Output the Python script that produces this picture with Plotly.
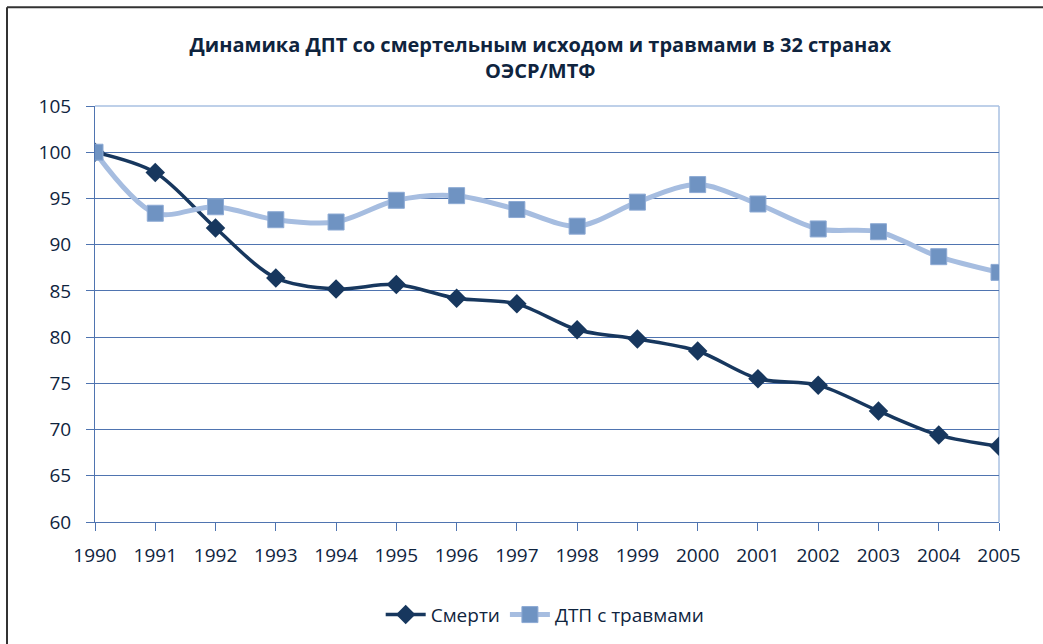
import plotly.graph_objects as go

years = [str(y) for y in range(1990, 2006)]
deaths = [100, 97.8, 91.8, 86.4, 85.2, 85.7, 84.2, 83.6, 80.8, 79.8, 78.5, 75.5, 74.8, 72.0, 69.4, 68.2]
injuries = [100, 93.4, 94.1, 92.7, 92.45, 94.8, 95.3, 93.8, 92.0, 94.6, 96.5, 94.4, 91.7, 91.4, 88.7, 87.0]
y_ticks = [60, 65, 70, 75, 80, 85, 90, 95, 100, 105]

title_text = "Динамика ДПТ со смертельным исходом и травмами в 32 странах<br>ОЭСР/МТФ"
name_deaths = "Смерти"
name_injuries = "ДТП с травмами"

FONT = "Open Sans"
TXT = "#0F243E"
GRID = "#4F74B0"

fig = go.Figure()
fig.add_trace(go.Scatter(
    x=years, y=deaths, name=name_deaths, mode="lines+markers",
    line=dict(color="#17375E", width=3.5, shape="spline", smoothing=0.9),
    marker=dict(symbol="diamond", size=15, color="#17375E"),
))
fig.add_trace(go.Scatter(
    x=years, y=injuries, name=name_injuries, mode="lines+markers",
    line=dict(color="#A6BDE0", width=5, shape="spline", smoothing=0.9),
    marker=dict(symbol="square", size=16, color="#6F93C2", line=dict(color="#8DAAD4", width=1)),
))

fig.update_layout(
    width=1043, height=644,
    margin=dict(l=95, r=44, t=106, b=121),
    paper_bgcolor="white", plot_bgcolor="white",
    font=dict(family=FONT, color=TXT, size=19),
    title=dict(text=title_text, x=0.518, xanchor="center", y=0.92, yanchor="middle",
               font=dict(family=FONT, size=20, color=TXT, weight="bold")),
    showlegend=True,
    legend=dict(orientation="h", x=0.498, xanchor="center", y=-0.22, yanchor="middle",
                font=dict(size=19, color=TXT), itemwidth=40, traceorder="normal"),
    xaxis=dict(
        type="category", range=[0, 15], showgrid=False,
        showline=True, linecolor=GRID, linewidth=1,
        ticks="outside", ticklen=8, tickcolor=GRID,
        tickfont=dict(size=19, color=TXT), fixedrange=True, ticklabelstandoff=8,
    ),
    yaxis=dict(
        range=[60, 105], tickvals=y_ticks, showgrid=True, gridcolor=GRID, gridwidth=1,
        showline=True, linecolor=GRID, linewidth=1,
        ticks="outside", ticklen=8, tickcolor=GRID, zeroline=False,
        tickfont=dict(size=19, color=TXT), ticklabelstandoff=11,
    ),
)

# light plot-area frame (top and right)
fig.add_shape(type="line", xref="paper", yref="paper", x0=0, x1=1, y0=1, y1=1,
              line=dict(color="#A9C0E2", width=1.5), layer="above")
fig.add_shape(type="line", xref="paper", yref="paper", x0=1, x1=1, y0=0, y1=1,
              line=dict(color="#A9C0E2", width=1.5), layer="below")
# outer chart border: top and left edges only (the rest lies outside the picture)
bx = (7 - 95) / 904
by = (523 - 7) / 417
fig.add_shape(type="line", xref="paper", yref="paper", x0=bx, x1=1.1, y0=by, y1=by,
              line=dict(color="#333333", width=2), layer="above")
fig.add_shape(type="line", xref="paper", yref="paper", x0=bx, x1=bx, y0=by, y1=-0.4,
              line=dict(color="#333333", width=2), layer="above")

fig.write_html("out.html", config={"displayModeBar": False},
               post_script="document.body.style.margin='0';document.body.style.overflow='hidden';"
                           "document.documentElement.style.overflow='hidden';")
